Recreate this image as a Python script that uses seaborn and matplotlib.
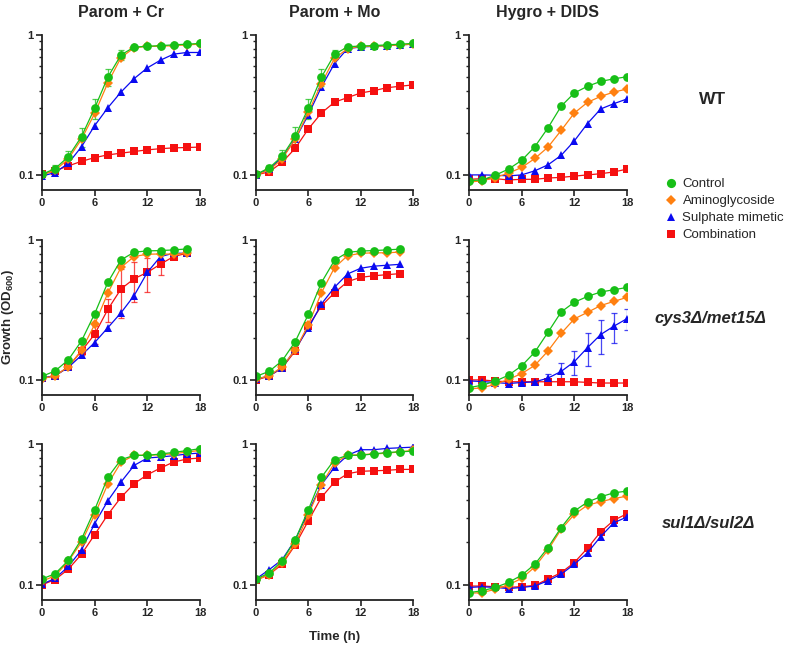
import numpy as np
import pandas as pd
import matplotlib
matplotlib.use("Agg")
import matplotlib.pyplot as plt
from matplotlib.lines import Line2D
from matplotlib.ticker import FixedLocator, NullFormatter
import seaborn as sns

# ---------------- data ----------------
time_h = [0, 1.5, 3, 4.5, 6, 7.5, 9, 10.5, 12, 13.5, 15, 16.5, 18]
treatments = ["Control", "Aminoglycoside", "Sulphate mimetic", "Combination"]
col_titles = ["Parom + Cr", "Parom + Mo", "Hygro + DIDS"]
row_labels = ["WT", "cys3Δ/met15Δ", "sul1Δ/sul2Δ"]

# WT
wt_cr_control = [0.101, 0.111, 0.135, 0.188, 0.30, 0.50, 0.72, 0.82, 0.83, 0.84, 0.85, 0.86, 0.87]
wt_cr_amino   = [0.100, 0.108, 0.130, 0.180, 0.275, 0.455, 0.69, 0.81, 0.83, 0.83, 0.84, 0.85, 0.86]
wt_cr_sulph   = [0.098, 0.104, 0.121, 0.159, 0.225, 0.302, 0.391, 0.488, 0.582, 0.661, 0.73, 0.75, 0.75]
wt_cr_combo   = [0.101, 0.107, 0.116, 0.125, 0.133, 0.139, 0.143, 0.147, 0.151, 0.154, 0.156, 0.157, 0.158]
wt_cr_control_err = [0, 0.006, 0.014, 0.03, 0.047, 0.07, 0.06, 0, 0, 0, 0, 0, 0]

wt_mo_control = [0.101, 0.112, 0.136, 0.189, 0.30, 0.50, 0.726, 0.824, 0.834, 0.84, 0.85, 0.86, 0.87]
wt_mo_amino   = [0.100, 0.108, 0.130, 0.180, 0.28, 0.45, 0.68, 0.80, 0.83, 0.83, 0.84, 0.85, 0.86]
wt_mo_sulph   = [0.100, 0.110, 0.133, 0.180, 0.269, 0.425, 0.625, 0.80, 0.82, 0.83, 0.84, 0.85, 0.86]
wt_mo_combo   = [0.100, 0.105, 0.123, 0.155, 0.213, 0.277, 0.331, 0.357, 0.385, 0.40, 0.42, 0.43, 0.44]
wt_mo_control_err = [0, 0.006, 0.014, 0.03, 0.047, 0.07, 0.05, 0, 0, 0, 0, 0, 0]

wt_dids_control = [0.091, 0.092, 0.0995, 0.110, 0.127, 0.159, 0.217, 0.310, 0.385, 0.43, 0.466, 0.486, 0.503]
wt_dids_amino   = [0.089, 0.0906, 0.0958, 0.103, 0.113, 0.131, 0.158, 0.208, 0.277, 0.330, 0.364, 0.391, 0.411]
wt_dids_sulph   = [0.100, 0.100, 0.0995, 0.0984, 0.100, 0.107, 0.118, 0.138, 0.175, 0.233, 0.296, 0.323, 0.349]
wt_dids_combo   = [0.093, 0.094, 0.094, 0.092, 0.093, 0.093, 0.095, 0.096, 0.098, 0.100, 0.102, 0.105, 0.110]

# cys3/met15
cys_cr_control = [0.106, 0.116, 0.139, 0.190, 0.297, 0.498, 0.721, 0.818, 0.836, 0.84, 0.85, 0.863]
cys_cr_amino   = [0.102, 0.107, 0.124, 0.163, 0.249, 0.418, 0.637, 0.762, 0.791, 0.795, 0.791, 0.804]
cys_cr_sulph   = [0.103, 0.107, 0.123, 0.150, 0.185, 0.236, 0.302, 0.401, 0.587, 0.762, 0.804, 0.804]
cys_cr_combo   = [0.103, 0.107, 0.124, 0.161, 0.212, 0.319, 0.447, 0.529, 0.587, 0.672, 0.762, 0.804]
cys_cr_combo_err = [0, 0, 0, 0.01, 0.03, 0.06, 0.17, 0.17, 0.16, 0.11, 0.03, 0]

cys_mo_control = [0.106, 0.115, 0.137, 0.188, 0.294, 0.496, 0.716, 0.816, 0.834, 0.84, 0.85, 0.86]
cys_mo_amino   = [0.101, 0.107, 0.124, 0.164, 0.247, 0.420, 0.634, 0.773, 0.803, 0.81, 0.81, 0.82]
cys_mo_sulph   = [0.101, 0.107, 0.122, 0.166, 0.234, 0.349, 0.459, 0.572, 0.628, 0.65, 0.66, 0.67]
cys_mo_combo   = [0.100, 0.106, 0.122, 0.161, 0.243, 0.338, 0.420, 0.504, 0.541, 0.555, 0.565, 0.575]

cys_dids_control = [0.088, 0.0917, 0.098, 0.108, 0.126, 0.158, 0.219, 0.306, 0.359, 0.395, 0.425, 0.441, 0.458]
cys_dids_amino   = [0.086, 0.088, 0.093, 0.101, 0.111, 0.127, 0.161, 0.215, 0.273, 0.304, 0.340, 0.364, 0.389]
cys_dids_sulph   = [0.0984, 0.0973, 0.0958, 0.0942, 0.0958, 0.0968, 0.103, 0.115, 0.135, 0.170, 0.211, 0.242, 0.274]
cys_dids_combo   = [0.100, 0.100, 0.098, 0.097, 0.097, 0.097, 0.097, 0.097, 0.097, 0.096, 0.095, 0.095, 0.095]
cys_dids_sulph_err = [0, 0, 0, 0, 0, 0, 0.008, 0.017, 0.027, 0.045, 0.058, 0.057, 0.047]

# sul1/sul2
sul_cr_control = [0.110, 0.120, 0.149, 0.211, 0.341, 0.58, 0.774, 0.831, 0.831, 0.849, 0.872, 0.897, 0.927]
sul_cr_amino   = [0.106, 0.116, 0.147, 0.201, 0.315, 0.52, 0.741, 0.831, 0.831, 0.84, 0.853, 0.877, 0.90]
sul_cr_sulph   = [0.101, 0.111, 0.135, 0.177, 0.272, 0.395, 0.537, 0.705, 0.795, 0.809, 0.826, 0.849, 0.863]
sul_cr_combo   = [0.100, 0.109, 0.129, 0.165, 0.227, 0.315, 0.418, 0.523, 0.605, 0.675, 0.745, 0.782, 0.795]

sul_mo_control = [0.110, 0.121, 0.148, 0.209, 0.341, 0.58, 0.774, 0.831, 0.831, 0.85, 0.87, 0.88, 0.89]
sul_mo_amino   = [0.108, 0.118, 0.144, 0.195, 0.315, 0.514, 0.733, 0.831, 0.84, 0.85, 0.86, 0.88, 0.90]
sul_mo_sulph   = [0.110, 0.128, 0.151, 0.209, 0.329, 0.514, 0.683, 0.831, 0.911, 0.911, 0.93, 0.94, 0.95]
sul_mo_combo   = [0.108, 0.118, 0.140, 0.192, 0.285, 0.418, 0.537, 0.615, 0.640, 0.645, 0.65, 0.66, 0.66]

sul_dids_control = [0.088, 0.0907, 0.0958, 0.104, 0.117, 0.140, 0.184, 0.255, 0.334, 0.387, 0.422, 0.450, 0.463]
sul_dids_amino   = [0.087, 0.088, 0.093, 0.100, 0.111, 0.134, 0.177, 0.248, 0.316, 0.368, 0.389, 0.410, 0.426]
sul_dids_sulph   = [0.0958, 0.0969, 0.0958, 0.094, 0.0958, 0.098, 0.107, 0.119, 0.140, 0.169, 0.220, 0.276, 0.303]
sul_dids_combo   = [0.098, 0.098, 0.097, 0.096, 0.097, 0.099, 0.110, 0.122, 0.144, 0.182, 0.238, 0.287, 0.320]

panels = [
    [(wt_cr_control, wt_cr_amino, wt_cr_sulph, wt_cr_combo),
     (wt_mo_control, wt_mo_amino, wt_mo_sulph, wt_mo_combo),
     (wt_dids_control, wt_dids_amino, wt_dids_sulph, wt_dids_combo)],
    [(cys_cr_control, cys_cr_amino, cys_cr_sulph, cys_cr_combo),
     (cys_mo_control, cys_mo_amino, cys_mo_sulph, cys_mo_combo),
     (cys_dids_control, cys_dids_amino, cys_dids_sulph, cys_dids_combo)],
    [(sul_cr_control, sul_cr_amino, sul_cr_sulph, sul_cr_combo),
     (sul_mo_control, sul_mo_amino, sul_mo_sulph, sul_mo_combo),
     (sul_dids_control, sul_dids_amino, sul_dids_sulph, sul_dids_combo)],
]
errors = {
    (0, 0, "Control"): wt_cr_control_err,
    (0, 1, "Control"): wt_mo_control_err,
    (1, 0, "Combination"): cys_cr_combo_err,
    (1, 2, "Sulphate mimetic"): cys_dids_sulph_err,
}

# ---------------- style ----------------
sns.set_style("ticks")
FAM = ["Liberation Sans", "DejaVu Sans"]
plt.rcParams["font.family"] = FAM
plt.rcParams["mathtext.fontset"] = "custom"
plt.rcParams["mathtext.rm"] = "Liberation Sans:bold"
plt.rcParams["mathtext.default"] = "rm"

palette = {"Control": "#17BF17", "Aminoglycoside": "#FF8010",
           "Sulphate mimetic": "#0A0AF0", "Combination": "#F51010"}
markers = {"Control": "o", "Aminoglycoside": "D",
           "Sulphate mimetic": "^", "Combination": "s"}
msize = {"Control": 6.3, "Aminoglycoside": 5.0,
         "Sulphate mimetic": 6.0, "Combination": 5.2}
draw_order = ["Combination", "Sulphate mimetic", "Aminoglycoside", "Control"]

W, H = 787, 646
fig = plt.figure(figsize=(W / 100, H / 100), dpi=100)
cols_px = [(42, 200), (256, 413), (469, 627)]
rows_px = [(35, 190), (240, 395), (444, 600)]
YMIN = 0.078

for r in range(3):
    for c in range(3):
        l, rr = cols_px[c]
        top, bot = rows_px[r]
        ax = fig.add_axes([l / W, 1 - bot / H, (rr - l) / W, (bot - top) / H])
        recs = []
        for name, vals in zip(treatments, panels[r][c]):
            for t, v in zip(time_h, vals):
                recs.append({"time": t, "od": v, "treatment": name})
        df = pd.DataFrame(recs)
        for name in draw_order:
            key = (r, c, name)
            if key in errors:
                vals = panels[r][c][treatments.index(name)]
                err = errors[key]
                ax.errorbar(time_h[:len(vals)], vals, yerr=err, fmt="none",
                            ecolor=palette[name], elinewidth=0.9, capsize=2.5,
                            capthick=0.9, alpha=0.75, zorder=1)
            sub = df[df["treatment"] == name]
            sns.lineplot(data=sub, x="time", y="od", color=palette[name],
                         marker=markers[name], markersize=msize[name],
                         markeredgewidth=0, linewidth=0.9, ax=ax,
                         errorbar=None, legend=False, zorder=2)
        ax.set_yscale("log")
        ax.set_ylim(YMIN, 1)
        ax.set_xlim(0, 18)
        ax.set_xticks([0, 6, 12, 18])
        ax.set_xticklabels(["0", "6", "12", "18"])
        ax.yaxis.set_major_locator(FixedLocator([0.1, 1]))
        ax.set_yticklabels(["0.1", "1"])
        ax.yaxis.set_minor_locator(FixedLocator([0.2, 0.3, 0.4, 0.5, 0.6, 0.7, 0.8, 0.9]))
        ax.yaxis.set_minor_formatter(NullFormatter())
        ax.set_xlabel("")
        ax.set_ylabel("")
        for s in ["top", "right"]:
            ax.spines[s].set_visible(False)
        for s in ["left", "bottom"]:
            ax.spines[s].set_linewidth(1.3)
            ax.spines[s].set_color("#222222")
        ax.tick_params(axis="both", which="major", direction="out", length=4,
                       width=1.2, color="#222222", labelsize=8, pad=2)
        ax.tick_params(axis="y", which="minor", direction="out", length=2.5,
                       width=1.0, color="#222222")
        for lab in ax.get_xticklabels() + ax.get_yticklabels():
            lab.set_fontweight("bold")
        ax.set_facecolor("none")
        if r == 0:
            ax.set_title(col_titles[c], fontsize=11.5, fontweight="bold", pad=13)

# row labels
fig.text(713 / W, 1 - 100 / H, row_labels[0], fontsize=12.5, fontweight="bold",
         ha="center", va="center")
fig.text(710 / W, 1 - 318 / H, row_labels[1], fontsize=12, fontweight="bold",
         style="italic", ha="center", va="center")
fig.text(708 / W, 1 - 523 / H, row_labels[2], fontsize=12, fontweight="bold",
         style="italic", ha="center", va="center")

# axis labels
fig.text(8 / W, 1 - 317 / H, r"Growth (OD$_{600}$)", rotation=90, fontsize=9.5,
         fontweight="bold", ha="center", va="center")
fig.text(335 / W, 1 - 637 / H, "Time (h)", fontsize=9.5, fontweight="bold",
         ha="center", va="center")

# legend
handles = [Line2D([], [], linestyle="none", marker=markers[n], color=palette[n],
                  markersize=msize[n] * 1.05, markeredgewidth=0) for n in treatments]
fig.legend(handles, treatments, loc="upper left",
           bbox_to_anchor=(664 / W, 1 - 178 / H), frameon=False, fontsize=9.5,
           handlelength=1.0, handletextpad=0.4, labelspacing=0.36,
           borderaxespad=0, borderpad=0)

fig.savefig("out.png", dpi=100)
